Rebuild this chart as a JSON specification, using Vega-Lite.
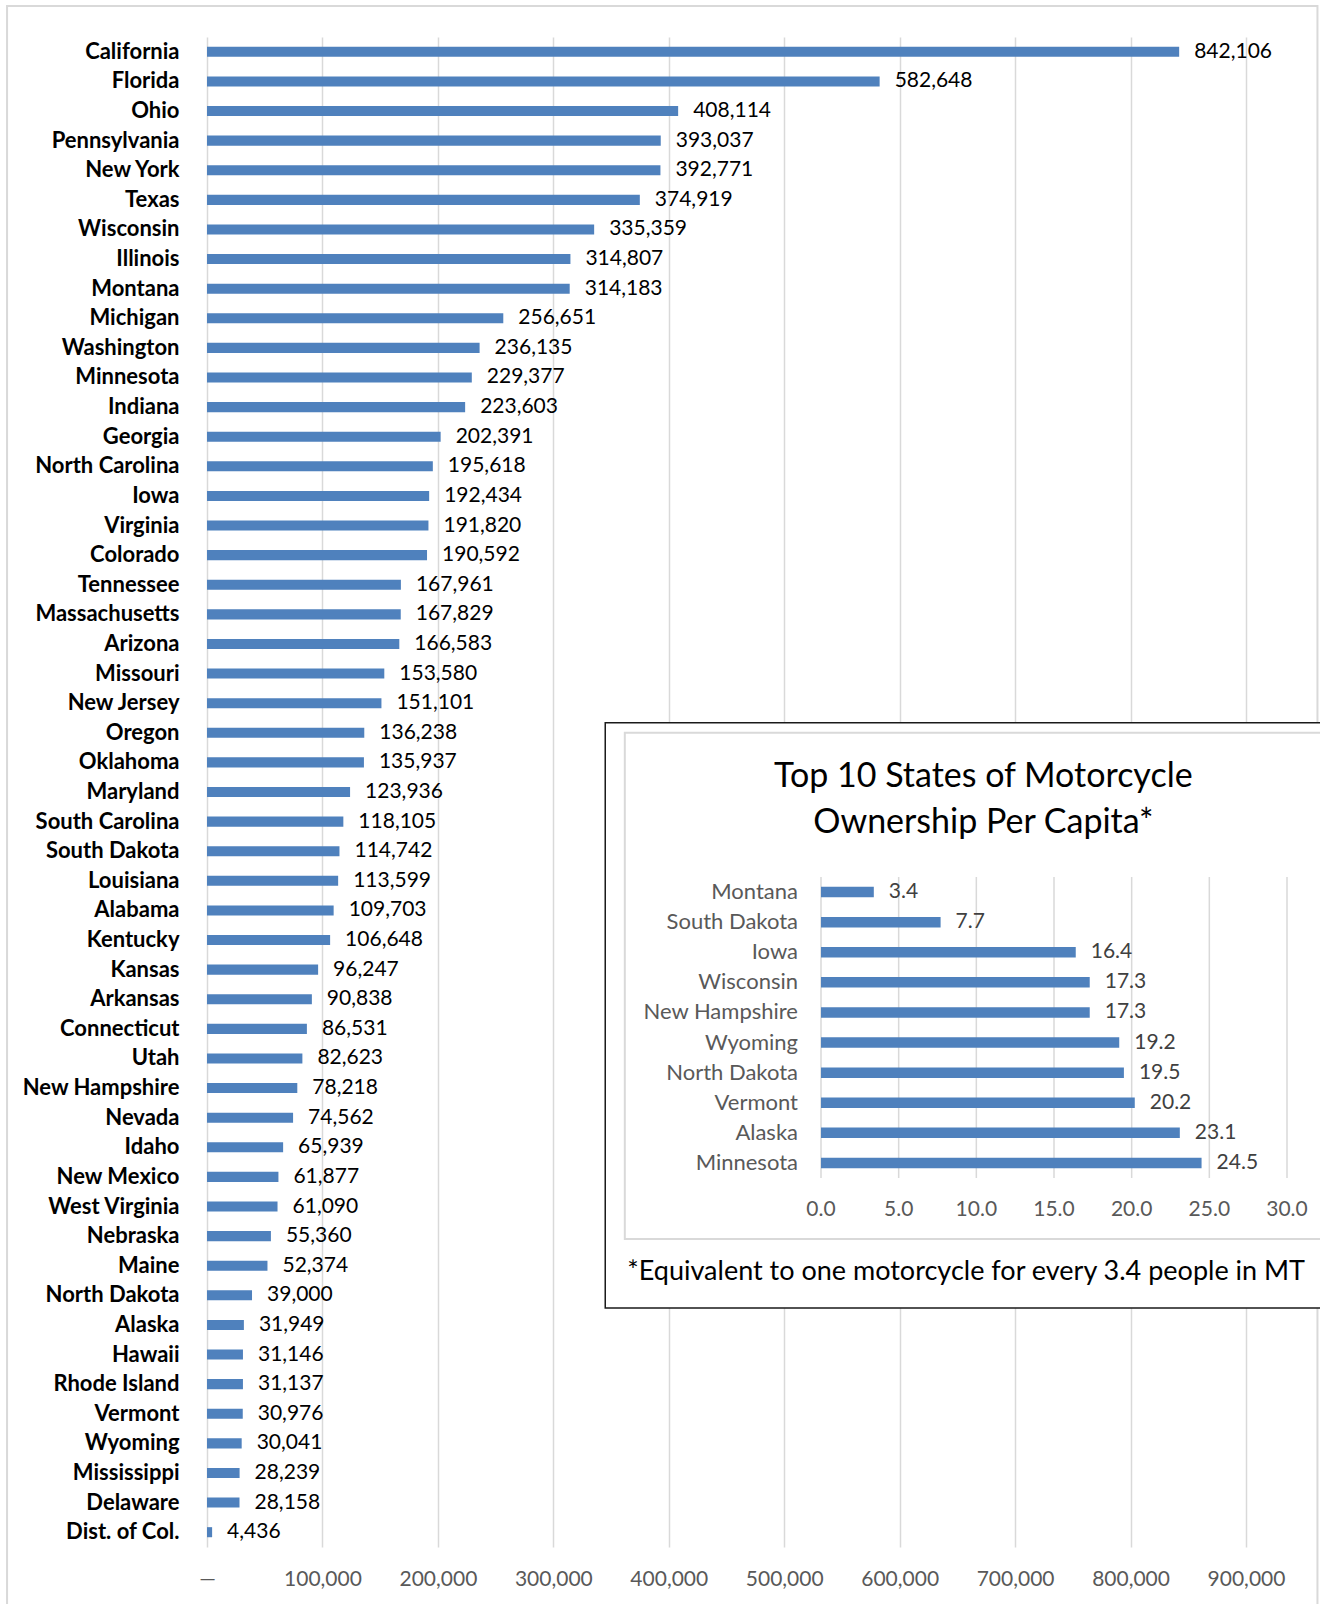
{
  "$schema": "https://vega.github.io/schema/vega-lite/v6.json",
  "autosize": {"type": "none"},
  "width": 1039,
  "height": 1510,
  "padding": {"left": 207, "top": 37, "right": 74, "bottom": 57},
  "background": "white",
  "config": {
    "font": "Lato",
    "view": {"stroke": null},
    "axis": {"labelFont": "Lato"},
    "text": {"font": "Lato"}
  },
  "datasets": {
    "states": [
      {"state": "California", "motorcycles": 842106},
      {"state": "Florida", "motorcycles": 582648},
      {"state": "Ohio", "motorcycles": 408114},
      {"state": "Pennsylvania", "motorcycles": 393037},
      {"state": "New York", "motorcycles": 392771},
      {"state": "Texas", "motorcycles": 374919},
      {"state": "Wisconsin", "motorcycles": 335359},
      {"state": "Illinois", "motorcycles": 314807},
      {"state": "Montana", "motorcycles": 314183},
      {"state": "Michigan", "motorcycles": 256651},
      {"state": "Washington", "motorcycles": 236135},
      {"state": "Minnesota", "motorcycles": 229377},
      {"state": "Indiana", "motorcycles": 223603},
      {"state": "Georgia", "motorcycles": 202391},
      {"state": "North Carolina", "motorcycles": 195618},
      {"state": "Iowa", "motorcycles": 192434},
      {"state": "Virginia", "motorcycles": 191820},
      {"state": "Colorado", "motorcycles": 190592},
      {"state": "Tennessee", "motorcycles": 167961},
      {"state": "Massachusetts", "motorcycles": 167829},
      {"state": "Arizona", "motorcycles": 166583},
      {"state": "Missouri", "motorcycles": 153580},
      {"state": "New Jersey", "motorcycles": 151101},
      {"state": "Oregon", "motorcycles": 136238},
      {"state": "Oklahoma", "motorcycles": 135937},
      {"state": "Maryland", "motorcycles": 123936},
      {"state": "South Carolina", "motorcycles": 118105},
      {"state": "South Dakota", "motorcycles": 114742},
      {"state": "Louisiana", "motorcycles": 113599},
      {"state": "Alabama", "motorcycles": 109703},
      {"state": "Kentucky", "motorcycles": 106648},
      {"state": "Kansas", "motorcycles": 96247},
      {"state": "Arkansas", "motorcycles": 90838},
      {"state": "Connecticut", "motorcycles": 86531},
      {"state": "Utah", "motorcycles": 82623},
      {"state": "New Hampshire", "motorcycles": 78218},
      {"state": "Nevada", "motorcycles": 74562},
      {"state": "Idaho", "motorcycles": 65939},
      {"state": "New Mexico", "motorcycles": 61877},
      {"state": "West Virginia", "motorcycles": 61090},
      {"state": "Nebraska", "motorcycles": 55360},
      {"state": "Maine", "motorcycles": 52374},
      {"state": "North Dakota", "motorcycles": 39000},
      {"state": "Alaska", "motorcycles": 31949},
      {"state": "Hawaii", "motorcycles": 31146},
      {"state": "Rhode Island", "motorcycles": 31137},
      {"state": "Vermont", "motorcycles": 30976},
      {"state": "Wyoming", "motorcycles": 30041},
      {"state": "Mississippi", "motorcycles": 28239},
      {"state": "Delaware", "motorcycles": 28158},
      {"state": "Dist. of Col.", "motorcycles": 4436}
    ],
    "perCapita": [
      {"rank": 1, "state": "Montana", "people": 3.4},
      {"rank": 2, "state": "South Dakota", "people": 7.7},
      {"rank": 3, "state": "Iowa", "people": 16.4},
      {"rank": 4, "state": "Wisconsin", "people": 17.3},
      {"rank": 5, "state": "New Hampshire", "people": 17.3},
      {"rank": 6, "state": "Wyoming", "people": 19.2},
      {"rank": 7, "state": "North Dakota", "people": 19.5},
      {"rank": 8, "state": "Vermont", "people": 20.2},
      {"rank": 9, "state": "Alaska", "people": 23.1},
      {"rank": 10, "state": "Minnesota", "people": 24.5}
    ],
    "insetTicks": [
      {"tick": 0}, {"tick": 5}, {"tick": 10}, {"tick": 15}, {"tick": 20}, {"tick": 25}, {"tick": 30}
    ]
  },
  "layer": [
    {
      "data": {"name": "states"},
      "encoding": {
        "y": {
          "field": "state",
          "type": "nominal",
          "sort": "-x",
          "scale": {"paddingInner": 0.66, "paddingOuter": 0.33},
          "axis": {
            "title": null,
            "domain": false,
            "ticks": false,
            "grid": false,
            "labelFontSize": 22,
            "labelFontWeight": "bold",
            "labelColor": "#000000",
            "labelPadding": 28
          }
        },
        "x": {
          "field": "motorcycles",
          "type": "quantitative",
          "scale": {"domain": [0, 900000], "nice": false},
          "axis": {
            "title": null,
            "orient": "bottom",
            "values": [0, 100000, 200000, 300000, 400000, 500000, 600000, 700000, 800000, 900000],
            "labelExpr": "datum.value == 0 ? '—' : format(datum.value, ',')",
            "labelOverlap": false,
            "labelFlush": false,
            "domain": false,
            "ticks": false,
            "grid": true,
            "gridColor": "#d9d9d9",
            "gridWidth": 1.5,
            "labelFontSize": 21,
            "labelColor": "#595959",
            "labelPadding": 21
          }
        }
      },
      "layer": [
        {"mark": {"type": "bar", "color": "#4F81BD"}},
        {
          "mark": {"type": "text", "align": "left", "baseline": "middle", "dx": 15, "fontSize": 21, "color": "#000000"},
          "encoding": {"text": {"field": "motorcycles", "type": "quantitative", "format": ","}}
        }
      ]
    },
    {
      "layer": [
        {
          "data": {"values": [{}]},
          "mark": {"type": "rect", "fillOpacity": 0, "stroke": "#d9d9d9", "strokeWidth": 2},
          "encoding": {
            "x": {"datum": -52.4, "type": "quantitative", "scale": {"domain": [0, 30], "range": [614, 1080], "nice": false, "zero": false, "padding": 0}, "axis": null},
            "x2": {"datum": 31.96},
            "y": {"datum": -28.44, "type": "quantitative", "scale": {"domain": [0.5, 10.5], "range": [840, 1141], "nice": false, "zero": false, "padding": 0}, "axis": null},
            "y2": {"datum": 25.5}
          }
        },
        {
          "data": {"values": [{}]},
          "mark": {"type": "rect", "fill": "#ffffff", "stroke": "#1a1a1a", "strokeWidth": 1.5},
          "encoding": {
            "x": {"datum": -13.89, "type": "quantitative", "axis": null},
            "x2": {"datum": 33.5},
            "y": {"datum": -4.626, "type": "quantitative", "axis": null},
            "y2": {"datum": 14.819}
          }
        },
        {
          "data": {"values": [{}]},
          "mark": {"type": "rect", "fillOpacity": 0, "stroke": "#d9d9d9", "strokeWidth": 2},
          "encoding": {
            "x": {"datum": -12.63, "type": "quantitative", "axis": null},
            "x2": {"datum": 33.5},
            "y": {"datum": -4.294, "type": "quantitative", "axis": null},
            "y2": {"datum": 12.527}
          }
        },
        {
          "data": {"name": "insetTicks"},
          "mark": {"type": "rule", "color": "#d9d9d9", "strokeWidth": 1.5},
          "encoding": {
            "x": {"field": "tick", "type": "quantitative", "axis": null},
            "y": {"datum": 0.5, "type": "quantitative", "axis": null},
            "y2": {"datum": 10.5}
          }
        },
        {
          "data": {"name": "insetTicks"},
          "mark": {"type": "text", "align": "center", "baseline": "middle", "fontSize": 21, "color": "#595959"},
          "encoding": {
            "x": {"field": "tick", "type": "quantitative", "axis": null},
            "y": {"datum": 11.56, "type": "quantitative", "axis": null},
            "text": {"field": "tick", "type": "quantitative", "format": ".1f"}
          }
        },
        {
          "data": {"name": "perCapita"},
          "mark": {"type": "bar", "orient": "horizontal", "size": 10.5, "color": "#4F81BD"},
          "encoding": {
            "x": {"field": "people", "type": "quantitative", "axis": null},
            "y": {"field": "rank", "type": "quantitative", "axis": null}
          }
        },
        {
          "data": {"name": "perCapita"},
          "mark": {"type": "text", "align": "left", "baseline": "middle", "dx": 15, "fontSize": 21, "color": "#404040"},
          "encoding": {
            "x": {"field": "people", "type": "quantitative", "axis": null},
            "y": {"field": "rank", "type": "quantitative", "axis": null},
            "text": {"field": "people", "type": "quantitative", "format": ".1f"}
          }
        },
        {
          "data": {"name": "perCapita"},
          "mark": {"type": "text", "align": "right", "baseline": "middle", "dx": -23, "fontSize": 22, "color": "#595959"},
          "encoding": {
            "x": {"datum": 0, "type": "quantitative", "axis": null},
            "y": {"field": "rank", "type": "quantitative", "axis": null},
            "text": {"field": "state", "type": "nominal"}
          }
        },
        {
          "data": {"values": [{}]},
          "mark": {"type": "text", "align": "center", "baseline": "middle", "fontSize": 34, "color": "#000000"},
          "encoding": {
            "x": {"datum": 10.45, "type": "quantitative", "axis": null},
            "y": {"datum": -2.822, "type": "quantitative", "axis": null},
            "text": {"value": "Top 10 States of Motorcycle"}
          }
        },
        {
          "data": {"values": [{}]},
          "mark": {"type": "text", "align": "center", "baseline": "middle", "fontSize": 34, "color": "#000000"},
          "encoding": {
            "x": {"datum": 10.45, "type": "quantitative", "axis": null},
            "y": {"datum": -1.294, "type": "quantitative", "axis": null},
            "text": {"value": "Ownership Per Capita*"}
          }
        },
        {
          "data": {"values": [{}]},
          "mark": {"type": "text", "align": "left", "baseline": "middle", "fontSize": 27, "color": "#000000"},
          "encoding": {
            "x": {"datum": -12.47, "type": "quantitative", "axis": null},
            "y": {"datum": 13.62, "type": "quantitative", "axis": null},
            "text": {"value": "*Equivalent to one motorcycle for every 3.4 people in MT"}
          }
        }
      ]
    }
  ],
  "resolve": {"scale": {"x": "independent", "y": "independent"}}
}
